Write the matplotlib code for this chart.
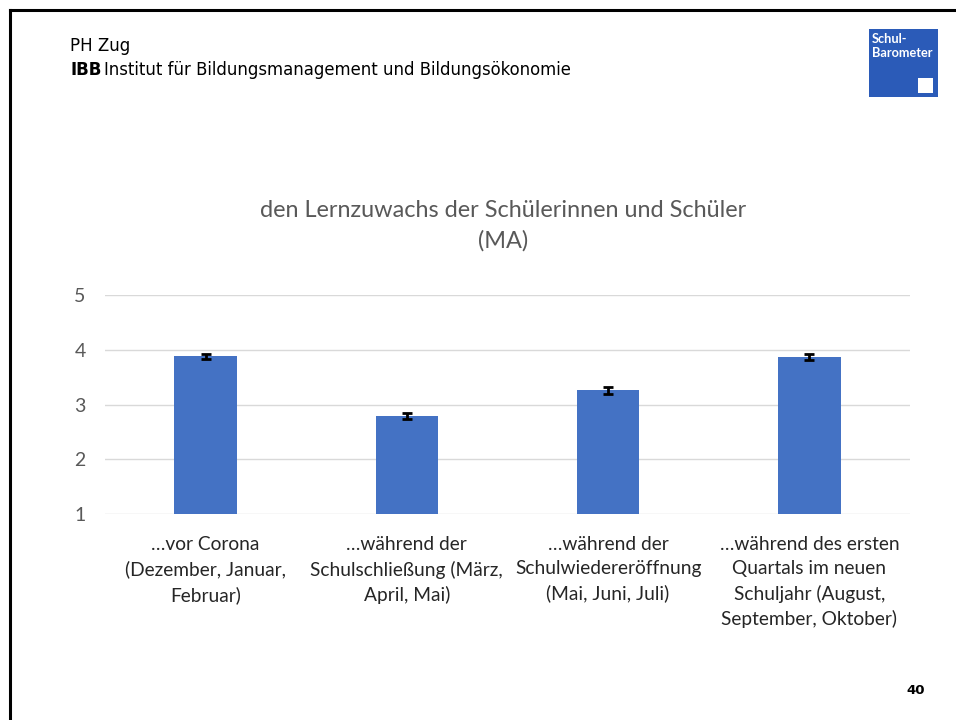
import numpy as np
import matplotlib.pyplot as plt
from matplotlib.patches import Rectangle
from matplotlib.lines import Line2D

kategorien = ["…vor Corona\n(Dezember, Januar,\nFebruar)",
              "…während der\nSchulschließung (März,\nApril, Mai)",
              "…während der\nSchulwiedereröffnung\n(Mai, Juni, Juli)",
              "…während des ersten\nQuartals im neuen\nSchuljahr (August,\nSeptember, Oktober)"]
mittelwerte = [3.88, 2.79, 3.26, 3.87]
fehler = [0.05, 0.06, 0.06, 0.05]
y_ticks = [1, 2, 3, 4, 5]

plt.rcParams['font.family'] = ['Lato', 'DejaVu Sans']

fig = plt.figure(figsize=(9.56, 7.2), dpi=100)
renderer = fig.canvas.get_renderer()

# Folienrahmen
fig.add_artist(Line2D([9.5/956, 9.5/956], [0, 1 - 10/720], color="black", lw=2.2, transform=fig.transFigure))
fig.add_artist(Line2D([9.5/956, 1], [1 - 10/720, 1 - 10/720], color="black", lw=2.2, transform=fig.transFigure))

# Kopfzeile
kopf_font = ['DejaVu Sans']
fig.text(70/956, 1 - 46/720, "PH Zug", fontsize=12, family=kopf_font, va="center")
ibb = fig.text(70/956, 1 - 70/720, "IBB", fontsize=12, fontweight="bold", family=kopf_font, va="center")
breite = ibb.get_window_extent(renderer).width
fig.text((70 + breite + 3)/956, 1 - 70/720, "Institut für Bildungsmanagement und Bildungsökonomie",
         fontsize=11.9, family=kopf_font, va="center")

# Logo
fig.add_artist(Rectangle((869/956, 1 - 97/720), 69/956, 68/720, facecolor="#2b5bb8", edgecolor="none",
                         transform=fig.transFigure))
fig.add_artist(Rectangle((918/956, 1 - 93/720), 15/956, 15/720, facecolor="white", edgecolor="none",
                         transform=fig.transFigure))
fig.text(872/956, 1 - 46/720, "Schul-\nBarometer", fontsize=9.2, fontweight="bold", color="white",
         va="center", linespacing=1.15)

# Seitenzahl
fig.text(916/956, 1 - 691/720, "40", fontsize=9.5, fontweight="bold", family=['DejaVu Sans'],
         ha="center", va="center")

ax = fig.add_axes([105/956, 1 - 514/720, 805/956, 219/720])
x = np.arange(len(kategorien))
ax.bar(x, mittelwerte, width=0.31, color="#4472c4", zorder=2)
ax.errorbar(x, mittelwerte, yerr=fehler, fmt="none", ecolor="black", elinewidth=2, capsize=3.5, capthick=2, zorder=3)

ax.set_xlim(-0.5, 3.5)
ax.set_ylim(1, 5)
ax.set_yticks(y_ticks)
ax.set_xticks(x)
ax.set_xticklabels(kategorien, fontsize=13.8, color="#262626", linespacing=1.5)
ax.tick_params(axis="y", labelsize=14, labelcolor="#595959", length=0, pad=14)
ax.tick_params(axis="x", length=0, pad=16)
ax.grid(axis="y", color="#d9d9d9", lw=1, zorder=0)
for s in ax.spines.values():
    s.set_visible(False)

fig.text(503/956, 1 - 226/720, "den Lernzuwachs der Schülerinnen und Schüler\n(MA)", fontsize=16.9,
         color="#595959", ha="center", va="center", linespacing=1.5)

fig.savefig("out.png", dpi=100)
